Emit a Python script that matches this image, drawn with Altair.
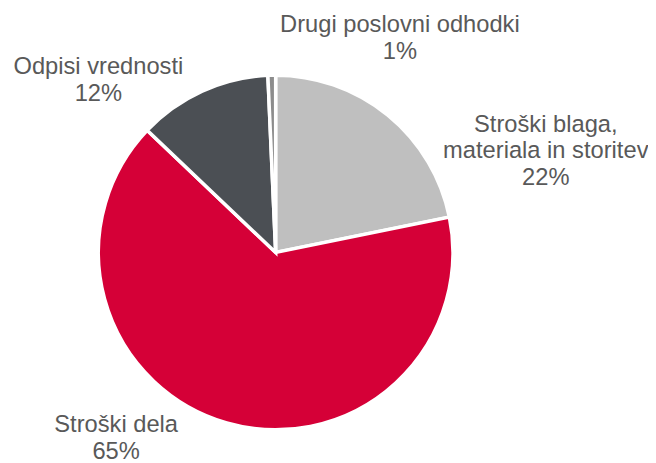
import altair as alt
import pandas as pd

# ---- data ----
categories = [
    "Stroški blaga, materiala in storitev",
    "Stroški dela",
    "Odpisi vrednosti",
    "Drugi poslovni odhodki",
]
category_labels = [
    "Stroški blaga,\nmateriala in storitev",
    "Stroški dela",
    "Odpisi vrednosti",
    "Drugi poslovni odhodki",
]
shares = [21.8, 65.3, 12.2, 0.7]
colors = ["#bfbfbf", "#d50037", "#4b4f54", "#8c8c8c"]

# label placement offsets (layout only)
label_dx = [147, -106.3, -96.6, 130.2]
label_dy = [32.4, -10.9, 1.2, -23.4]

total = sum(shares)
df = pd.DataFrame({
    "cat": categories,
    "value": shares,
    "order": list(range(len(categories))),
    "label": [f"{l}\n{round(v):d}%" for l, v in zip(category_labels, shares)],
})

theta_scale = alt.Scale(domain=[0, total])
color_scale = alt.Scale(domain=categories, range=colors)

arcs = alt.Chart(df).mark_arc(radius=179.5, stroke="white", strokeWidth=3.5).encode(
    theta=alt.Theta("value:Q", stack=True, scale=theta_scale),
    color=alt.Color("cat:N", scale=color_scale, legend=None),
    order=alt.Order("order:Q"),
)

base = alt.Chart(df).transform_window(
    cum="sum(value)", frame=[None, 0], sort=[alt.SortField("order")]
).transform_calculate(mid="datum.cum - datum.value / 2")

layers = [arcs]
for name, dx, dy in zip(categories, label_dx, label_dy):
    layers.append(
        base.transform_filter(alt.datum.cat == name)
        .mark_text(
            radius=200, dx=dx, dy=dy, align="center", baseline="alphabetic",
            lineBreak="\n", lineHeight=27.3, font="Liberation Sans",
            fontSize=24, color="#595959",
        )
        .encode(
            theta=alt.Theta("mid:Q", scale=theta_scale, stack=False),
            text="label:N",
        )
    )

chart = alt.layer(*layers).properties(
    width=542,
    height=489,
    padding={"left": 0, "top": 0, "right": 106, "bottom": 0},
    autosize=alt.AutoSizeParams(type="none"),
).configure_view(stroke=None)

chart.save("out.html", embed_options={"renderer": "svg", "actions": False})
